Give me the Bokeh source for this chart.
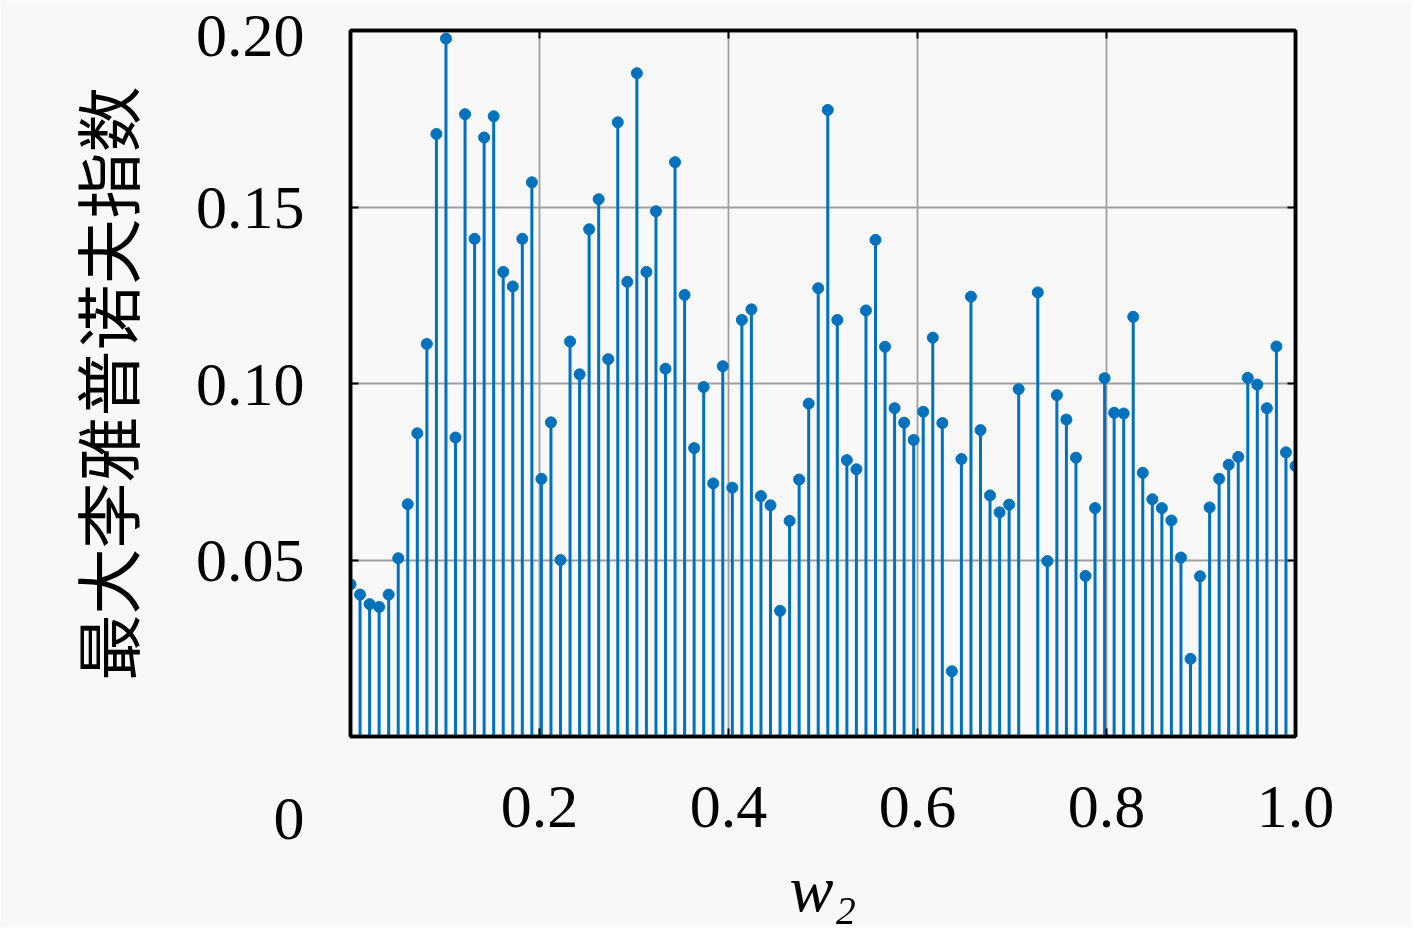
import numpy as np
from bokeh.plotting import figure
from bokeh.models import Range1d, LinearAxis, FixedTicker, ColumnDataSource
from bokeh.embed import file_html
from bokeh.resources import INLINE

# data: w2 grid (100 samples 0..1) and max Lyapunov exponent (one sample missing)
w2 = np.linspace(0.0, 1.0, 100)
lyap = [
    0.0431, 0.0402, 0.0375, 0.0367, 0.0402, 0.0505, 0.0658, 0.0859, 0.1112, 0.1707,
    0.1977, 0.0847, 0.1763, 0.1410, 0.1697, 0.1757, 0.1316, 0.1275, 0.1410, 0.1570,
    0.0730, 0.0890, 0.0500, 0.1119, 0.1026, 0.1437, 0.1522, 0.1069, 0.1740, 0.1288,
    0.1879, 0.1316, 0.1488, 0.1042, 0.1627, 0.1251, 0.0817, 0.0990, 0.0717, 0.1049,
    0.0705, 0.1180, 0.1210, 0.0681, 0.0655, 0.0356, 0.0611, 0.0728, 0.0943, 0.1270,
    0.1775, 0.1180, 0.0783, 0.0757, 0.1207, 0.1407, 0.1104, 0.0930, 0.0889, 0.0840,
    0.0920, 0.1130, 0.0888, 0.0185, 0.0786, 0.1246, 0.0868, 0.0683, 0.0635, 0.0657,
    0.0984, float("nan"), 0.1258, 0.0497, 0.0967, 0.0898, 0.0790, 0.0455, 0.0647, 0.1015,
    0.0917, 0.0915, 0.1189, 0.0747, 0.0672, 0.0647, 0.0612, 0.0507, 0.0220, 0.0454,
    0.0649, 0.0730, 0.0770, 0.0792, 0.1016, 0.0997, 0.0930, 0.1105, 0.0805, 0.0766,
]
x_ticks = [0.2, 0.4, 0.6, 0.8, 1.0]
y_ticks = [0.0, 0.05, 0.10, 0.15, 0.20]
grid_y = [0.05, 0.10, 0.15]
x_tick_labels = {0.2: "0.2", 0.4: "0.4", 0.6: "0.6", 0.8: "0.8", 1.0: "1.0"}
y_tick_labels = {0.0: "\n\n0", 0.05: "0.05", 0.10: "0.10", 0.15: "0.15", 0.20: "0.20"}
y_label = "最大李雅普诺夫指数"
x_label = "w₂"

src = ColumnDataSource(data=dict(x=w2, y=np.array(lyap, dtype=float), y0=np.zeros(len(w2))))

BG = "#f8f8f8"
SERIF = "Liberation Serif"
BLUE = "#0072BD"
W, H = 1411, 927

p = figure(width=W, height=H, output_backend="svg", toolbar_location=None,
           x_range=Range1d(0, 1), y_range=Range1d(0, 0.2),
           x_axis_location=None, y_axis_location=None,
           min_border_left=350, min_border_right=W - 1295,
           min_border_top=30, min_border_bottom=H - 740)
p.background_fill_color = BG
p.border_fill_color = BG
p.outline_line_color = "black"
p.outline_line_width = 3.5

def style_axis(ax, labels_on):
    ax.axis_line_color = "black"
    ax.axis_line_width = 3.5
    ax.major_tick_in = 8
    ax.major_tick_out = 0
    ax.major_tick_line_color = "black"
    ax.major_tick_line_width = 2
    ax.minor_tick_line_color = None
    if not labels_on:
        ax.major_label_text_font_size = "0px"
        ax.major_label_text_color = None

xb = LinearAxis(ticker=FixedTicker(ticks=x_ticks), major_label_overrides=x_tick_labels)
style_axis(xb, True)
xb.major_label_text_font = SERIF
xb.major_label_text_font_size = "62px"
xb.major_label_text_color = "black"
xb.major_label_standoff = 50
xb.axis_label = x_label
xb.axis_label_text_font = SERIF
xb.axis_label_text_font_style = "italic"
xb.axis_label_text_font_size = "66px"
xb.axis_label_text_color = "black"
xb.axis_label_standoff = 22
p.add_layout(xb, "below")

yl = LinearAxis(ticker=FixedTicker(ticks=y_ticks), major_label_overrides=y_tick_labels)
style_axis(yl, True)
yl.major_label_text_font = SERIF
yl.major_label_text_font_size = "62px"
yl.major_label_text_color = "black"
yl.major_label_standoff = 46
yl.axis_label = y_label
yl.axis_label_text_font = "Noto Sans CJK SC"
yl.axis_label_text_font_style = "normal"
yl.axis_label_text_font_size = "66px"
yl.axis_label_text_color = "black"
yl.axis_label_standoff = 40
p.add_layout(yl, "left")

xt = LinearAxis(ticker=FixedTicker(ticks=x_ticks))
style_axis(xt, False)
p.add_layout(xt, "above")
yr = LinearAxis(ticker=FixedTicker(ticks=grid_y + [0.2]))
style_axis(yr, False)
p.add_layout(yr, "right")

p.xgrid.ticker = FixedTicker(ticks=x_ticks)
p.ygrid.ticker = FixedTicker(ticks=grid_y)
for g in (p.xgrid, p.ygrid):
    g.grid_line_color = "#a0a0a0"
    g.grid_line_width = 1.8

p.segment(x0="x", y0="y0", x1="x", y1="y", source=src, line_color=BLUE, line_width=3)
p.scatter(x="x", y="y", source=src, size=11, fill_color=BLUE, line_color=BLUE)

open("out.html", "w").write(file_html(p, INLINE))
